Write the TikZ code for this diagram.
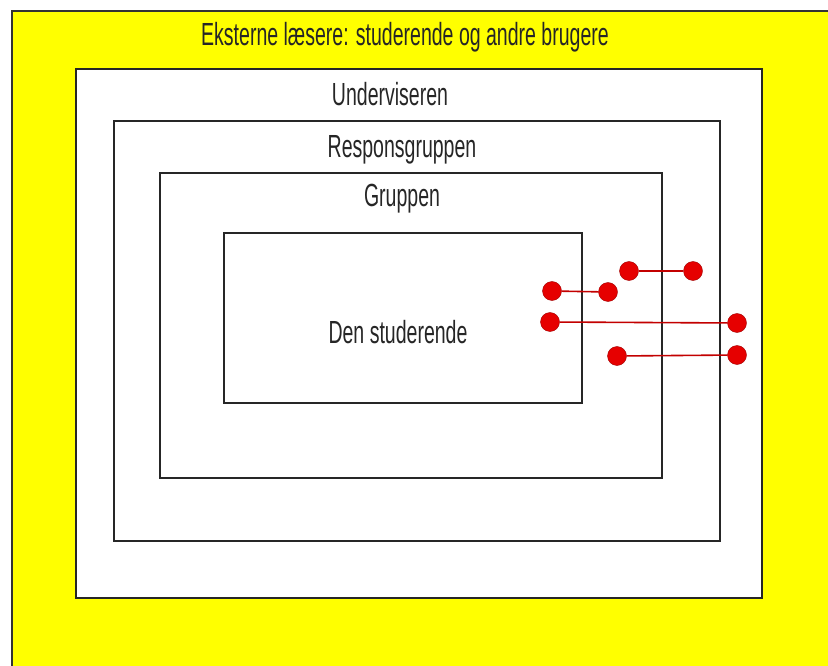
\documentclass[tikz,border=0pt]{standalone}
\usepackage{fontspec}
\setmainfont{Liberation Sans}[FakeStretch=0.61]
\usepackage{tikz}
\usetikzlibrary{positioning,calc}
\definecolor{paperyellow}{RGB}{255,255,0}
\definecolor{dotred}{RGB}{230,0,0}
\tikzset{
        box/.style = {draw=black!85, fill=white, rectangle, inner sep=0pt, line width=1.3pt},
        label/.style = {inner sep=0pt, anchor=base, font=\fontsize{32}{34}\selectfont, text=black!85},
        dot/.style = {circle, fill=dotred, draw=dotred!70!black, line width=0.4pt, inner sep=0pt, minimum size=19pt},
        link/.style={draw=dotred!85!black, line width=1.6pt}}

\begin{document}
\begin{tikzpicture}[x=1pt,y=-1pt]
            \useasboundingbox (0,0) rectangle (828,666);
            \fill[white] (0,0) rectangle (828,666);
            \fill[paperyellow] (12,11) rectangle (828,666);
            \draw[black!80, line width=1.3pt] (12,666) -- (12,11) -- (828,11);

            \node [box, minimum width=686pt, minimum height=529pt] (underv) at (419,333.5) {};
            \node [box, minimum width=606pt, minimum height=420pt] (respons) at (417,331) {};
            \node [box, minimum width=502pt, minimum height=305pt] (gruppe) at (411,325.5) {};
            \node [box, minimum width=358pt, minimum height=170pt] (stud) at (403,318) {};

            \node [label] (lext) at (405,46) {Eksterne læsere: studerende og andre brugere};
            \node [label] (lunderv) at (390,106) {Underviseren};
            \node [label] (lrespons) at (402,158) {Responsgruppen};
            \node [label] (lgruppe) at (402,207) {Gruppen};
            \node [label] (lstud) at (398,343) {Den studerende};

            \node [dot] (a1) at (629,271) {};
            \node [dot] (a2) at (693,271) {};
            \node [dot] (b1) at (552,291) {};
            \node [dot] (b2) at (608,292) {};
            \node [dot] (c1) at (550,322) {};
            \node [dot] (c2) at (737,323) {};
            \node [dot] (d1) at (617,356) {};
            \node [dot] (d2) at (737,355) {};

            \begin{scope}[link]
            \draw (a1) -- (a2);
            \draw (b1) -- (b2);
            \draw (c1) -- (c2);
            \draw (d1) -- (d2);
            \end{scope}
    \end{tikzpicture}
\end{document}
